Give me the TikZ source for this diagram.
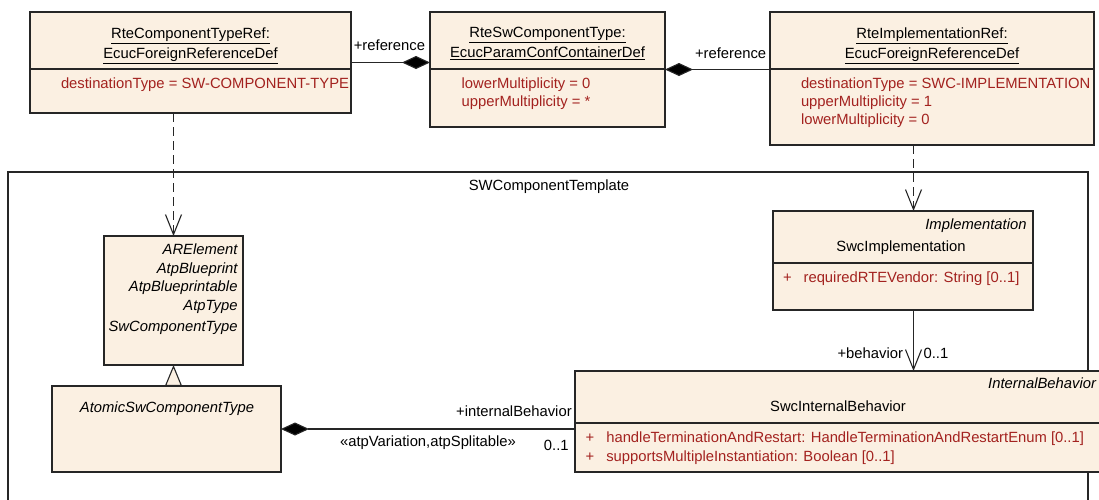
\documentclass[tikz,border=0pt]{standalone}
\usepackage{fontspec}
\setmainfont{Liberation Sans}
\usetikzlibrary{arrows.meta, positioning, calc}
\definecolor{umlline}{HTML}{262626}
\definecolor{umlfill}{HTML}{FBF0E2}
\definecolor{umlred}{HTML}{A3221F}

\begin{document}
\begin{tikzpicture}[x=1pt, y=-1pt,
  font=\fontsize{14.8}{18}\selectfont,
  classbox/.style={draw=umlline, fill=umlfill, line width=1.2pt, anchor=north west,
    inner sep=0pt, outer sep=0pt},
  framebox/.style={draw=umlline, fill=white, line width=1.2pt, anchor=north west,
    inner sep=0pt, outer sep=0pt},
  sepline/.style={draw=umlline, line width=1.2pt},
  txt/.style={inner sep=0pt, outer sep=0pt},
  ttl/.style={txt, anchor=base, align=center, font=\fontsize{14.8}{20}\selectfont},
  attr/.style={txt, anchor=base west, align=left, text=umlred},
  stereo/.style={txt, anchor=base east, align=right, font=\fontsize{14.8}{18.5}\selectfont\itshape},
  lbl/.style={txt, anchor=base},
  compose/.style={draw=umlline, line width=1.1pt, -{Diamond[length=28pt, width=13pt, fill=black]}},
  composestart/.style={draw=umlline, line width=1.1pt, {Diamond[length=28pt, width=13pt, fill=black]}-},
  depend/.style={draw=umlline, line width=1.1pt, dash pattern=on 9pt off 5pt,
    -{Straight Barb[length=20pt, width=16pt]}},
  navig/.style={draw=umlline, line width=1.1pt, -{Straight Barb[length=20pt, width=16pt]}},
  inherit/.style={draw=umlline, line width=1.1pt,
    -{Triangle[length=21pt, width=17pt, fill=umlfill]}}]

  \useasboundingbox (0,0) rectangle (1099,499);
  \fill[white] (0,0) rectangle (1099,499);
  \clip (0,0) rectangle (1099,499);

  % ===== SWComponentTemplate package frame =====
  \node[framebox, minimum width=1080pt, minimum height=360pt] (swctemplate) at (8,172) {};
  \node[lbl] (swctemplatettl) at (549,190) {SWComponentTemplate};

  % ===== TOP row: ECUC definitions =====
  % multi-line nodes sit on the baseline of their last line
  \node[classbox, minimum width=321pt, minimum height=101pt] (typeref) at (30,12) {};
  \draw[sepline] ([yshift=-57pt]typeref.north west) -- ([yshift=-57pt]typeref.north east);
  \node[ttl] (typerefttl) at (190.5,58.3)
       {\underline{RteComponentTypeRef:}\\\underline{EcucForeignReferenceDef}};
  \node[attr] (typerefattr) at (61,88.3) {destinationType = SW-COMPONENT-TYPE};

  \node[classbox, minimum width=235pt, minimum height=115pt] (swctype) at (430,12) {};
  \draw[sepline] ([yshift=-57pt]swctype.north west) -- ([yshift=-57pt]swctype.north east);
  \node[ttl] (swctypettl) at (547.5,57.8)
       {\underline{RteSwComponentType:}\\\underline{EcucParamConfContainerDef}};
  \node[attr] (swctypeattr) at (461.7,106.3) {lowerMultiplicity = 0\\upperMultiplicity = *};

  \node[classbox, minimum width=324pt, minimum height=133pt] (implref) at (770,12) {};
  \draw[sepline] ([yshift=-57pt]implref.north west) -- ([yshift=-57pt]implref.north east);
  \node[ttl] (implrefttl) at (932,58.3)
       {\underline{RteImplementationRef:}\\\underline{EcucForeignReferenceDef}};
  \node[attr] (implrefattr) at (801,124.3)
       {destinationType = SWC-IMPLEMENTATION\\upperMultiplicity = 1\\lowerMultiplicity = 0};

  % ===== Classes inside the template =====
  \node[classbox, minimum width=139pt, minimum height=129pt] (arelem) at (104,236) {};
  \node[stereo] (arelemttl) at (237.5,331.7)
       {ARElement\\AtpBlueprint\\AtpBlueprintable\\AtpType\\[3pt]SwComponentType};

  \node[classbox, minimum width=229pt, minimum height=86pt] (atomic) at (52,386) {};
  \node[lbl, font=\fontsize{14.8}{18}\selectfont\itshape] (atomicttl) at (167,412.3)
       {AtomicSwComponentType};

  \node[classbox, minimum width=260pt, minimum height=99pt] (swcimpl) at (773,211) {};
  \draw[sepline] ([yshift=-52pt]swcimpl.north west) -- ([yshift=-52pt]swcimpl.north east);
  \node[stereo] (swcimplstereo) at (1026.5,229) {Implementation};
  \node[lbl] (swcimplttl) at (901,251) {SwcImplementation};
  \node[attr] (swcimplplus) at (783,282.3) {+};
  \node[attr] (swcimplattr) at (803.6,282.3) {requiredRTEVendor: String [0..1]};

  \node[classbox, minimum width=527pt, minimum height=101pt] (swcbeh) at (575,371) {};
  \draw[sepline] ([yshift=-52pt]swcbeh.north west) -- ([yshift=-52pt]swcbeh.north east);
  \node[stereo] (swcbehstereo) at (1096,388) {InternalBehavior};
  \node[lbl] (swcbehttl) at (838,411.7) {SwcInternalBehavior};
  \node[attr] (swcbehplus) at (585.7,461.3) {+\\[1pt]+};
  \node[attr] (swcbehattr) at (606.3,461.3)
       {handleTerminationAndRestart: HandleTerminationAndRestartEnum [0..1]\\[1pt]supportsMultipleInstantiation: Boolean [0..1]};

  % ===== Connectors =====
  \draw[compose] (typeref.east) -- (typeref.east -| swctype.west);
  \node[lbl, anchor=base east] (refa) at (425,50) {+reference};

  \draw[compose] (implref.west |- swctype.east) -- (swctype.east);
  \node[lbl, anchor=base west] (refb) at (695,58.3) {+reference};

  \draw[depend] (typeref.south -| arelem.north) -- (arelem.north);

  \coordinate (behx) at ([xshift=10.5pt]swcimpl.north);
  \draw[depend] (implref.south -| behx) -- (behx);
  \draw[navig] (swcimpl.south -| behx) -- (swcbeh.north -| behx);
  \node[lbl, anchor=base east] (behrole) at (903,358) {+behavior};
  \node[lbl, anchor=base west] (behmult) at (923.6,358) {0..1};

  \draw[inherit] (arelem.south |- atomic.north) -- (arelem.south);

  \draw[composestart] (atomic.east) -- (atomic.east -| swcbeh.west);
  \node[lbl, anchor=base east] (intbeh) at (571.7,416.7) {+internalBehavior};
  \node[lbl] (atpvar) at (428,446.7) {«atpVariation,atpSplitable»};
  \node[lbl, anchor=base east] (intmult) at (568.6,450) {0..1};
\end{tikzpicture}
\end{document}
